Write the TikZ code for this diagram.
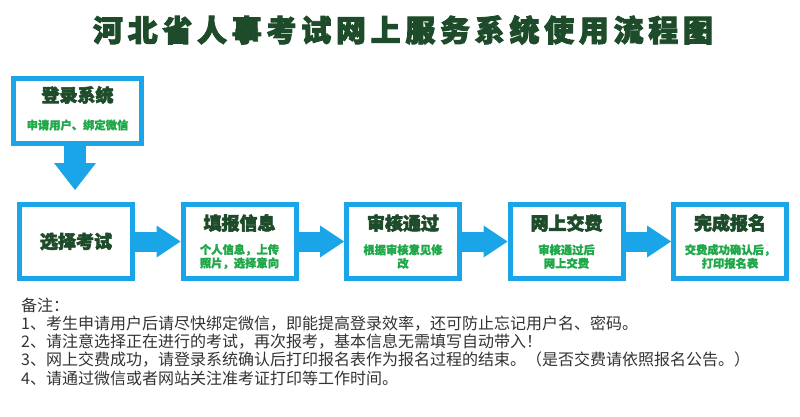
\documentclass[tikz,border=0pt]{standalone}
\usepackage{fontspec}
\usetikzlibrary{arrows.meta,calc}
\newfontfamily\cjk{Noto Sans CJK SC}
\newfontfamily\cjkheavy{Noto Sans CJK SC}[BoldFeatures={FakeBold=1.5}]
\newfontfamily\cjkblack{Noto Sans CJK SC}[BoldFeatures={FakeBold=3}]
\definecolor{bblue}{HTML}{1AA5E8}
\definecolor{dgreen}{HTML}{1E4B2A}
\definecolor{lgreen}{HTML}{20A84A}
\definecolor{notegray}{HTML}{333333}
\begin{document}
\begin{tikzpicture}[x=1pt,y=-1pt,
  box/.style={draw=bblue, line width=5pt, fill=white, minimum width=113pt, minimum height=74pt, inner sep=0pt},
  ttl/.style={text=dgreen, font=\cjkblack\bfseries\fontsize{18}{20}\selectfont, inner sep=0pt},
  sub/.style={text=lgreen, font=\cjkheavy\bfseries\fontsize{11.3}{13.5}\selectfont, inner sep=0pt, align=center},
  flow/.style={draw=bblue, line width=20pt, -{Triangle[length=24pt,width=32pt,line width=0pt]}},
  note/.style={text=notegray, font=\cjk\fontsize{16}{18}\selectfont, anchor=west, inner sep=0pt}]
\useasboundingbox[fill=white] (0,0) rectangle (800,417);

% title
\node[text=dgreen, font=\cjkblack\bfseries\fontsize{30}{32}\selectfont, inner sep=0pt] (title) at (403,30)
  {\makebox[620pt][s]{河\hfill 北\hfill 省\hfill 人\hfill 事\hfill 考\hfill 试\hfill 网\hfill 上\hfill 服\hfill 务\hfill 系\hfill 统\hfill 使\hfill 用\hfill 流\hfill 程\hfill 图}};

% top box
\node[box, minimum width=128pt, minimum height=65pt] (top) at (77.5,111) {};
\node[ttl] (topt) at ($(top.center)+(0,-16)$) {登录系统};
\node[sub] (tops) at ($(top.center)+(0,14)$) {申请用户、绑定微信};
\coordinate (dtip) at (75,190);
\draw[draw=bblue, line width=22pt, -{Triangle[length=27pt,width=42pt,line width=0pt]}] (top.south -| dtip) -- (dtip);

% row boxes
\node[box] (b1) at (76,241.5) {};
\node[box] (b2) at (239.5,241.5) {};
\node[box] (b3) at (403,241.5) {};
\node[box] (b4) at (566.5,241.5) {};
\node[box] (b5) at (730,241.5) {};

\node[ttl] (b1t) at (b1.center) {选择考试};
\node[ttl] (b2t) at ($(b2.center)+(0,-18.5)$) {填报信息};
\node[sub] (b2s) at ($(b2.center)+(0,15)$) {个人信息，上传\\照片，选择意向};
\node[ttl] (b3t) at ($(b3.center)+(0,-18.5)$) {审核通过};
\node[sub] (b3s) at ($(b3.center)+(0,15)$) {根据审核意见修\\改};
\node[ttl] (b4t) at ($(b4.center)+(0,-18.5)$) {网上交费};
\node[sub] (b4s) at ($(b4.center)+(0,15)$) {审核通过后\\网上交费};
\node[ttl] (b5t) at ($(b5.center)+(0,-18.5)$) {完成报名};
\node[sub] (b5s) at ($(b5.center)+(0,15)$) {交费成功确认后，\\打印报名表};

\draw[flow] (b1.east) -- (b2.west);
\draw[flow] (b2.east) -- (b3.west);
\draw[flow] (b3.east) -- (b4.west);
\draw[flow] (b4.east) -- (b5.west);

% notes
\node[note] (n0) at (21,305) {备注：};
\node[note] (n1) at (21,323.5) {1、考生申请用户后请尽快绑定微信，即能提高登录效率，还可防止忘记用户名、密码。};
\node[note] (n2) at (21,342) {2、请注意选择正在进行的考试，再次报考，基本信息无需填写自动带入！};
\node[note] (n3) at (21,360) {3、网上交费成功，请登录系统确认后打印报名表作为报名过程的结束。（是否交费请依照报名公告。）};
\node[note] (n4) at (21,378) {4、请通过微信或者网站关注准考证打印等工作时间。};
\end{tikzpicture}
\end{document}
